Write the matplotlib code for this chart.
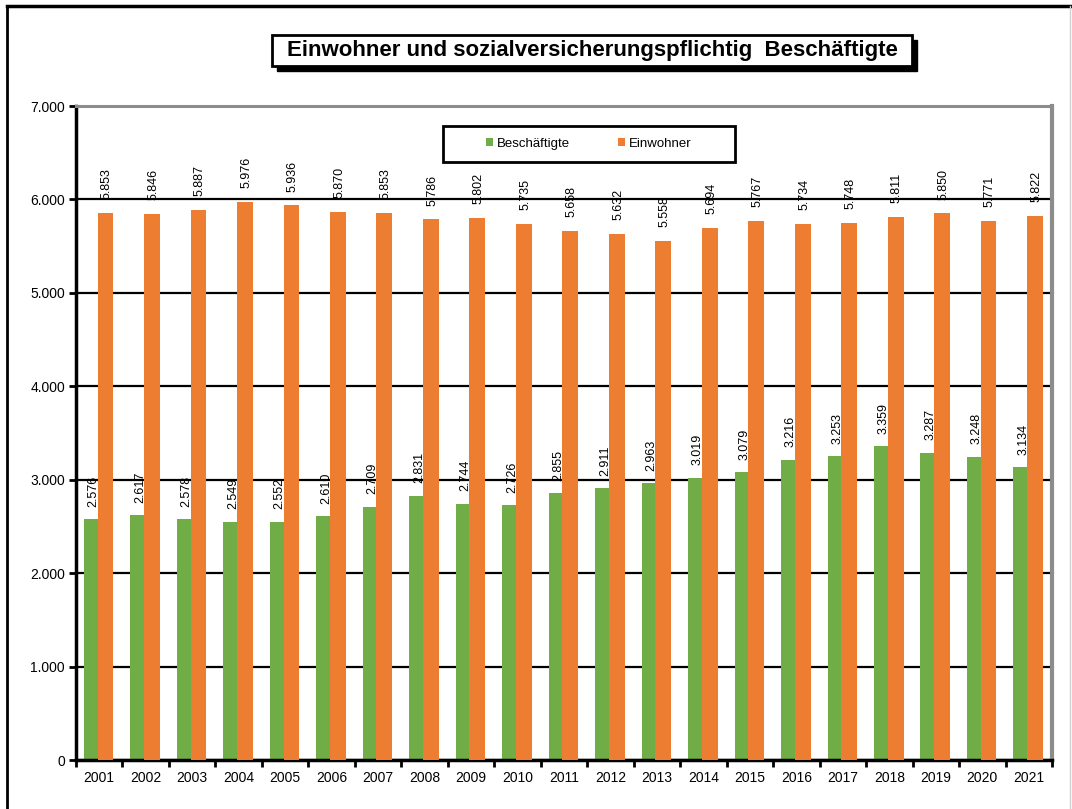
import matplotlib.pyplot as plt
import matplotlib as mpl
from matplotlib.patches import Rectangle
from matplotlib.lines import Line2D
import numpy as np

plt.rcParams['font.family'] = ['Liberation Sans', 'DejaVu Sans']

#Data
years = ['2001', '2002', '2003', '2004', '2005', '2006', '2007', '2008', '2009', '2010', '2011',
         '2012', '2013', '2014', '2015', '2016', '2017', '2018', '2019', '2020', '2021']
beschaeftigte = [2576, 2617, 2578, 2549, 2552, 2610, 2709, 2831, 2744, 2726, 2855,
                 2911, 2963, 3019, 3079, 3216, 3253, 3359, 3287, 3248, 3134]
einwohner = [5853, 5846, 5887, 5976, 5936, 5870, 5853, 5786, 5802, 5735, 5658,
             5632, 5558, 5694, 5767, 5734, 5748, 5811, 5850, 5771, 5822]
yticks = [0, 1000, 2000, 3000, 4000, 5000, 6000, 7000]

green = '#70AD47'
orange = '#ED7D31'
W, H = 1072, 809

def de(n):
    #German thousands separator
    return '{:,}'.format(n).replace(',', '.')

fig = plt.figure(figsize=(W/100, H/100), dpi=100)
ax = fig.add_axes([76/W, 1 - 760/H, (1052 - 76)/W, (760 - 106)/H])

x = np.arange(len(years))
b1 = ax.bar(x - 0.18, beschaeftigte, width=0.30, color=green, zorder=2)
b2 = ax.bar(x + 0.135, einwohner, width=0.34, color=orange, zorder=3)

for xi, v in zip(x - 0.18, beschaeftigte):
    ax.annotate(de(v), (xi, v), xytext=(2, 9), textcoords='offset points',
                rotation=90, ha='center', va='bottom', fontsize=9, zorder=5)
for xi, v in zip(x + 0.135, einwohner):
    ax.annotate(de(v), (xi, v), xytext=(1, 10), textcoords='offset points',
                rotation=90, ha='center', va='bottom', fontsize=9, zorder=5)

ax.set_xlim(-0.5, len(years) - 0.5)
ax.set_ylim(0, 7000)
ax.set_yticks(yticks)
ax.set_yticklabels([de(t) for t in yticks], fontsize=10)
ax.set_xticks(x)
ax.set_xticklabels(years, fontsize=10)
ax.set_xticks(np.arange(-0.5, len(years), 1), minor=True)
ax.tick_params(axis='x', which='major', length=0, pad=8)
ax.tick_params(axis='x', which='minor', length=5, width=2, direction='out')
ax.tick_params(axis='y', length=5, width=2, pad=3)

ax.set_axisbelow(True)
ax.yaxis.grid(True, color='black', linewidth=1.6)
ax.spines['left'].set_linewidth(2.5)
ax.spines['bottom'].set_linewidth(2.5)
ax.spines['top'].set_color('#8c8c8c')
ax.spines['top'].set_linewidth(2.2)
ax.spines['right'].set_color('#8c8c8c')
ax.spines['right'].set_linewidth(3)

#Legend in a framed box
lx0, lx1, ly0, ly1 = 443, 735, 126, 162
fig.add_artist(Rectangle((lx0/W, 1 - ly1/H), (lx1 - lx0)/W, (ly1 - ly0)/H, transform=fig.transFigure,
                         facecolor='white', edgecolor='black', linewidth=2, zorder=6))
leg = fig.legend([b1, b2], ['Beschäftigte', 'Einwohner'], loc='center',
                 bbox_to_anchor=((lx0 + lx1)/2/W, 1 - (ly0 + ly1)/2/H), ncol=2, frameon=False,
                 fontsize=9.5, handlelength=0.55, handleheight=0.55, handletextpad=0.3, columnspacing=3.6)
leg.set_zorder(7)

#Title box with shadow
tx0, tx1, ty0, ty1 = 272, 912, 35, 66
fig.add_artist(Rectangle(((tx0 + 5)/W, 1 - (ty1 + 5)/H), (tx1 - tx0)/W, (ty1 - ty0)/H,
                         transform=fig.transFigure, facecolor='black', edgecolor='black', zorder=6))
fig.add_artist(Rectangle((tx0/W, 1 - ty1/H), (tx1 - tx0)/W, (ty1 - ty0)/H,
                         transform=fig.transFigure, facecolor='white', edgecolor='black', linewidth=2, zorder=7))
fig.text((tx0 + tx1)/2/W, 1 - (ty0 + ty1)/2/H, 'Einwohner und sozialversicherungspflichtig  Beschäftigte',
         ha='center', va='center', fontsize=16, fontweight='bold', zorder=8)

#Outer frame of the picture
fig.add_artist(Line2D([7/W, 7/W], [0, 1 - 6/H], transform=fig.transFigure, color='black', linewidth=2))
fig.add_artist(Line2D([7/W, 1], [1 - 6/H, 1 - 6/H], transform=fig.transFigure, color='black', linewidth=2.5))
fig.add_artist(Line2D([1070/W, 1070/W], [0, 1 - 6/H], transform=fig.transFigure, color='#d0d0d0', linewidth=1))

fig.savefig('out.png', dpi=100)
